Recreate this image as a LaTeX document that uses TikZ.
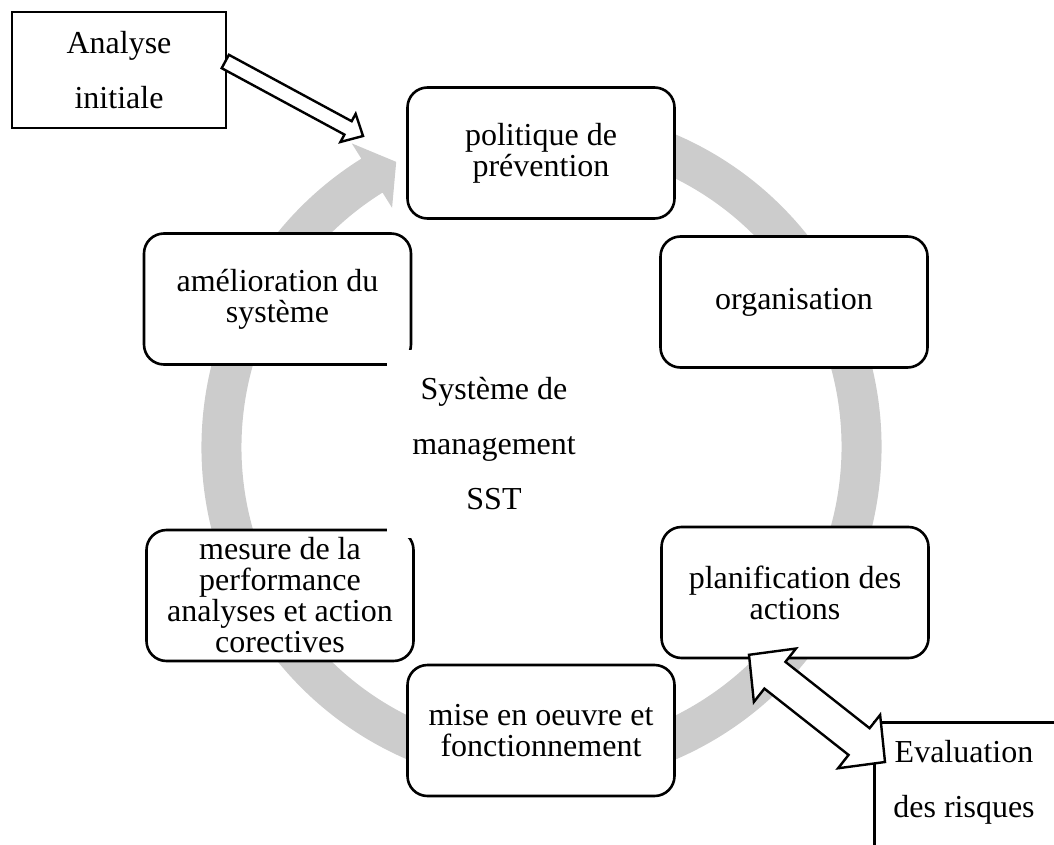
\documentclass[tikz,border=0pt]{standalone}
\usepackage{fontspec}
\setmainfont{Liberation Serif}
\usetikzlibrary{calc}

\definecolor{ringgray}{RGB}{204,204,204}

% hollow block arrow: tail #1, tip #2, shaft half width #3, head half width #4, head length #5
\newcommand\drawsinglearrow[5]{%
  \path ($(#2)!#5!(#1)$) coordinate (neckS);
  \draw[blockarrow]
    ($(#1)!#3!90:(#2)$) -- ($(neckS)!#3!90:(#2)$) -- ($(neckS)!#4!90:(#2)$) -- (#2)
    -- ($(neckS)!#4!-90:(#2)$) -- ($(neckS)!#3!-90:(#2)$) -- ($(#1)!#3!-90:(#2)$) -- cycle;
}
% hollow two-headed block arrow between tips #1 and #2
\newcommand\drawdoublearrow[5]{%
  \path ($(#1)!#5!(#2)$) coordinate (neckA) ($(#2)!#5!(#1)$) coordinate (neckB);
  \draw[blockarrow]
    (#1) -- ($(neckA)!#4!90:(#2)$) -- ($(neckA)!#3!90:(#2)$)
    -- ($(neckB)!#3!-90:(#1)$) -- ($(neckB)!#4!-90:(#1)$) -- (#2)
    -- ($(neckB)!#4!90:(#1)$) -- ($(neckB)!#3!90:(#1)$)
    -- ($(neckA)!#3!-90:(#2)$) -- ($(neckA)!#4!-90:(#2)$) -- cycle;
}

\begin{document}
\begin{tikzpicture}[x=1pt, y=-1pt,
  stepbox/.style={draw, line width=2.6pt, rounded corners=20pt, fill=white,
    minimum width=267pt, minimum height=131pt, inner sep=2pt, align=center,
    font=\fontsize{32}{31}\selectfont},
  framebox/.style={draw, line width=2.6pt, fill=white, inner sep=0pt},
  spaced/.style={align=center, inner sep=0pt, font=\fontsize{32}{55}\selectfont},
  blockarrow/.style={draw, fill=white, line width=2.4pt, line join=miter}]

\useasboundingbox (0,0) rectangle (1054,845);
\clip (0,0) rectangle (1054,845);

% circular gray arrow running clockwise behind the cycle
\coordinate (ringc) at (541.5,447);
\fill[ringgray]
  ([shift={(ringc)}]-80:340) arc[start angle=-80, end angle=238, radius=340]
  -- ([shift={(ringc)}]238:358) -- ([shift={(ringc)}]243:320)
  -- ([shift={(ringc)}]238:282) -- ([shift={(ringc)}]238:300)
  arc[start angle=238, end angle=-80, radius=300] -- cycle;

% the six stages
\node[stepbox] (pol)  at (541,153)   {politique de\\prévention};
\node[stepbox] (org)  at (794,302)   {organisation};
\node[stepbox] (plan) at (795,592.5) {planification des\\actions};
\node[stepbox] (mise) at (541,730.5) {mise en oeuvre et\\fonctionnement};
\node[stepbox] (mes)  at (280,595.5) {mesure de la\\performance\\analyses et action\\corectives};
\node[stepbox] (amel) at (277.5,299) {amélioration du\\système};

% central title
\node[spaced, fill=white, minimum width=214pt, minimum height=188pt] (core) at (494,444)
  {Système de\\management\\SST};

% initial analysis feeding the cycle
\node[framebox, spaced, minimum width=214pt, minimum height=116pt] (ana) at (119,70)
  {Analyse\\initiale};
\coordinate (anaTail) at ($(ana.east)+(-2,-8.5)$);
\coordinate (anaTip) at (363,136);
\drawsinglearrow{anaTail}{anaTip}{7.6pt}{16pt}{17pt}

% risk assessment linked both ways with planning
\node[framebox, minimum width=182pt, minimum height=200pt, anchor=north west] (eval) at (873,721) {};
\node[spaced] (evaltext) at (964,782) {Evaluation\\des risques};
\coordinate (planTip) at ($(plan.south)+(-46,-4.5)$);
\coordinate (evalTip) at ($(eval.north west)+(12,41)$);
\drawdoublearrow{planTip}{evalTip}{17pt}{34pt}{33pt}

\end{tikzpicture}
\end{document}
